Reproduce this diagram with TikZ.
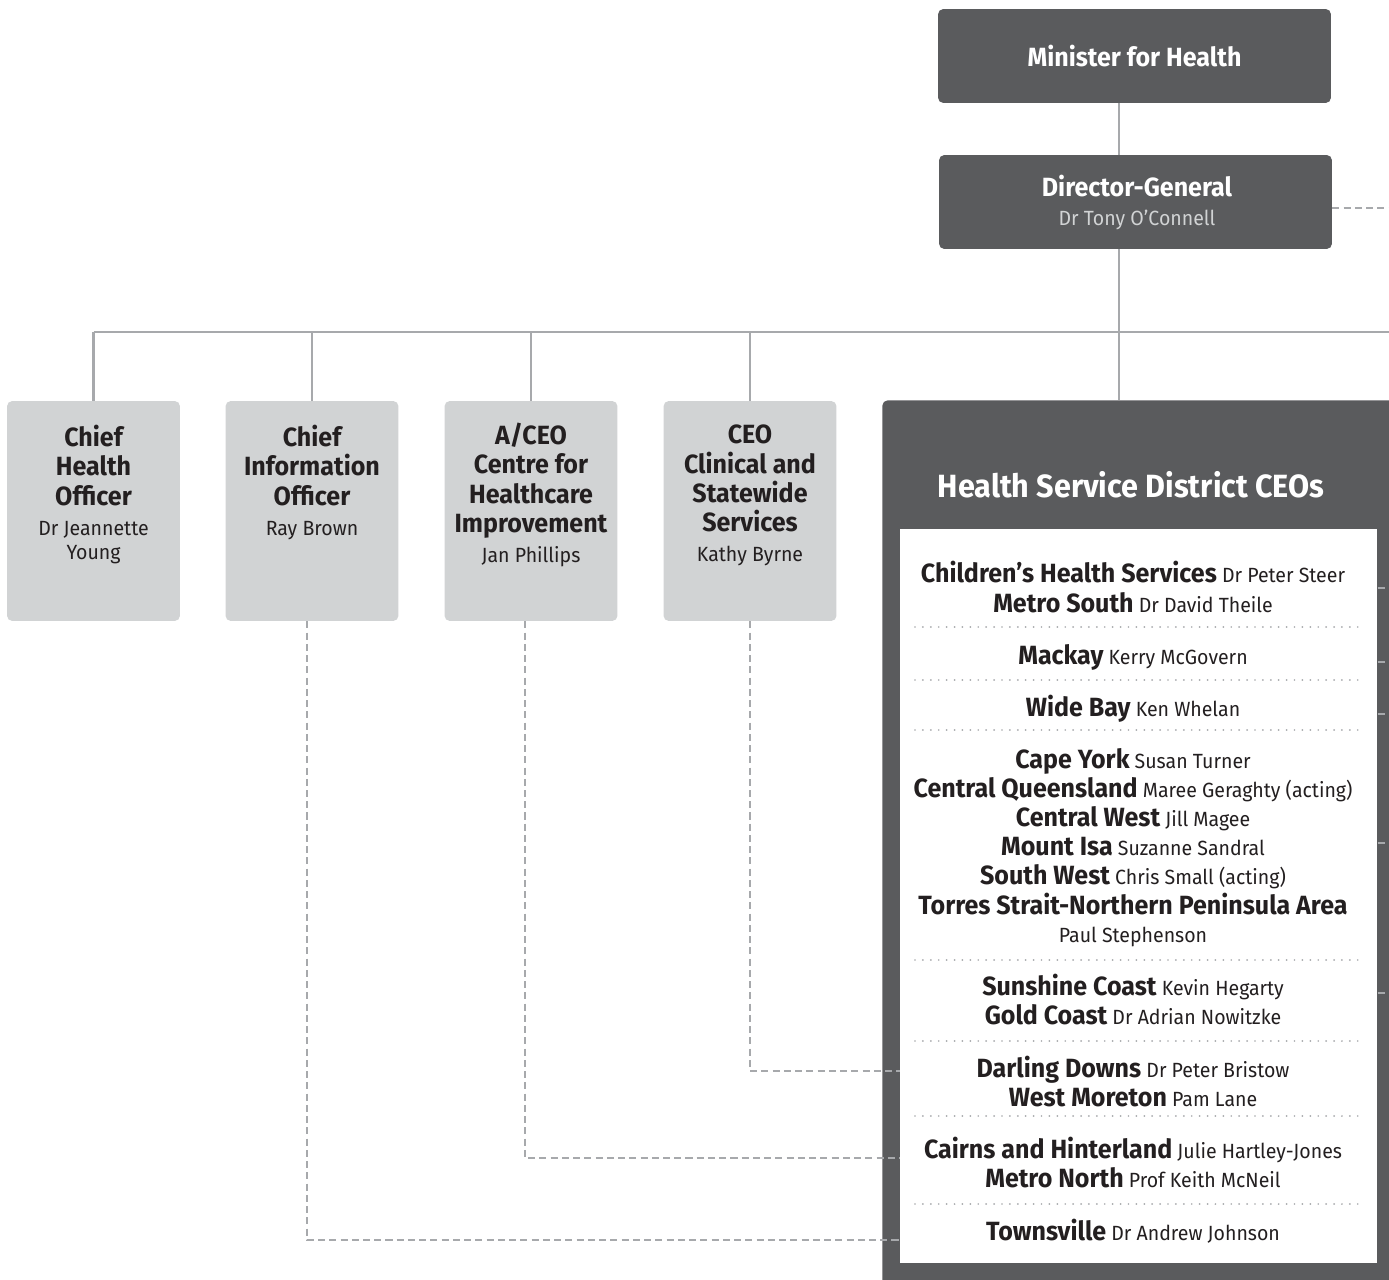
\documentclass[tikz,border=0pt]{standalone}
\usepackage{fontspec}
\setmainfont{Fira Sans}[FakeStretch=0.95]
\usepackage{xcolor}
\usetikzlibrary{calc}

\definecolor{qhdark}{HTML}{5A5B5D}
\definecolor{qhgrey}{HTML}{D1D3D4}
\definecolor{qhline}{HTML}{A7A9AC}
\definecolor{qhtext}{HTML}{231F20}

% bold district name, regular person name
\newcommand{\district}[1]{{\bfseries\fontsize{15}{16.7}\selectfont #1}}
\newcommand{\hsperson}[1]{{\mdseries\fontsize{11.7}{14}\selectfont #1}}

\begin{document}
\begin{tikzpicture}[x=0.02cm,y=-0.02cm,
    darkbox/.style={fill=qhdark, rounded corners=3pt, minimum width=7.86cm,
        minimum height=1.88cm, inner sep=0pt},
    greybox/.style={fill=qhgrey, rounded corners=3pt, minimum width=3.46cm,
        minimum height=4.4cm, inner sep=0pt},
    headtext/.style={align=center, inner sep=0pt, text=qhtext,
        font=\bfseries\fontsize{15}{16.7}\selectfont},
    rowtext/.style={anchor=base, inner sep=0pt, text=qhtext,
        font=\fontsize{11.7}{14}\selectfont},
    link/.style={draw=qhline, line width=1.5pt},
    dashlink/.style={draw=qhline, line width=1.1pt, dash pattern=on 4pt off 2.4pt},
    rowsep/.style={draw=qhline, line width=1.1pt, line cap=round,
        dash pattern=on 0pt off 4.5pt}]

    \clip (0,0) rectangle (1389,1280);

    % -- Minister and Director-General --
    \node[darkbox, text=white, font=\bfseries\fontsize{15}{18}\selectfont]
        (min) at (1134.5,56) {Minister for Health};
    \node[darkbox] (dg) at (1135.5,202) {};
    \node[headtext, text=white, anchor=base] (dg title) at (1137,197)
        {Director-General};
    \node[rowtext, text=qhgrey] (dg name) at (1137,226) {Dr Tony O’Connell};

    % -- Grey boxes for the executive officers --
    \node[greybox] (cho) at (93.5,511) {};
    \node[greybox] (cio) at (312,511) {};
    \node[greybox] (ceohi) at (531,511) {};
    \node[greybox] (cscs) at (750,511) {};

    \node[headtext, anchor=north] (cho text) at ([yshift=-0.48cm]cho.north)
        {Chief\\Health\\Officer\\[0.5pt]\hsperson{Dr Jeannette}\\[-3.1pt]\hsperson{Young}};
    \node[headtext, anchor=north] (cio text) at ([yshift=-0.48cm]cio.north)
        {Chief\\Information\\Officer\\[0.5pt]\hsperson{Ray Brown}};
    \node[headtext, anchor=north] (ceohi text) at ([yshift=-0.44cm]ceohi.north)
        {A/CEO\\Centre for\\Healthcare\\Improvement\\[0.5pt]\hsperson{Jan Phillips}};
    \node[headtext, anchor=north] (cscs text) at ([yshift=-0.48cm]cscs.north)
        {CEO\\Clinical and\\Statewide\\Services\\[0.5pt]\hsperson{Kathy Byrne}};

    % -- Health Service District panel --
    \node[fill=qhdark, rounded corners=3pt, anchor=north west, inner sep=0pt,
          minimum width=10.6cm, minimum height=18cm] (hsd) at (882,400) {};
    \node[text=white, anchor=base, inner sep=0pt,
          font=\bfseries\fontsize{18.3}{22}\selectfont]
        (hsd title) at (1131,497) {Health Service District CEOs};
    \node[fill=white, anchor=north west, inner sep=0pt,
          minimum width=9.54cm, minimum height=14.68cm] (dlist) at (900,529) {};

    % one node per printed line
    \foreach \yy/\entry [count=\i] in {
        582/{\district{Children’s Health Services} Dr Peter Steer},
        612/{\district{Metro South} Dr David Theile},
        664/{\district{Mackay} Kerry McGovern},
        716/{\district{Wide Bay} Ken Whelan},
        768/{\district{Cape York} Susan Turner},
        797/{\district{Central Queensland} Maree Geraghty (acting)},
        826/{\district{Central West} Jill Magee},
        855/{\district{Mount Isa} Suzanne Sandral},
        884/{\district{South West} Chris Small (acting)},
        914/{\district{Torres Strait-Northern Peninsula Area}},
        942/{Paul Stephenson},
        995/{\district{Sunshine Coast} Kevin Hegarty},
        1024/{\district{Gold Coast} Dr Adrian Nowitzke},
        1077/{\district{Darling Downs} Dr Peter Bristow},
        1106/{\district{West Moreton} Pam Lane},
        1158/{\district{Cairns and Hinterland} Julie Hartley-Jones},
        1187/{\district{Metro North} Prof Keith McNeil},
        1240/{\district{Townsville} Dr Andrew Johnson}}
        \node[rowtext] (row\i) at (1133,\yy) {\entry};

    % dotted separators between groups
    \foreach \yy in {627,680,730,960,1041,1116,1204}
        \draw[rowsep] (915,\yy) -- (1360,\yy);

    % -- Solid reporting lines --
    \coordinate (spine) at (1119,332);
    \coordinate (bar end) at (1389,332);
    \draw[link] (min.south -| spine) -- (dg.north -| spine);
    \draw[link] (dg.south -| spine) -- (spine |- hsd.north);
    \draw[link] (cho.north |- spine) -- (bar end);
    \foreach \b in {cho,cio,ceohi,cscs}
        \draw[link] (\b.north) -- (\b.north |- spine);

    % -- Dashed links --
    \coordinate (dg out) at (1389,208);
    \draw[dashlink] (dg.east |- dg out) -- (dg out);
    \draw[dashlink] ([xshift=-0.1cm]cio.south) |- (dlist.west |- 0,1240);
    \draw[dashlink] ([xshift=-0.12cm]ceohi.south) |- (dlist.west |- 0,1158);
    \draw[dashlink] (cscs.south) |- (dlist.west |- 0,1071);
    \foreach \yy in {588,662,714,843,993}
        \draw[dashlink] (dlist.east |- 0,\yy) -- (1389,\yy);

\end{tikzpicture}
\end{document}
